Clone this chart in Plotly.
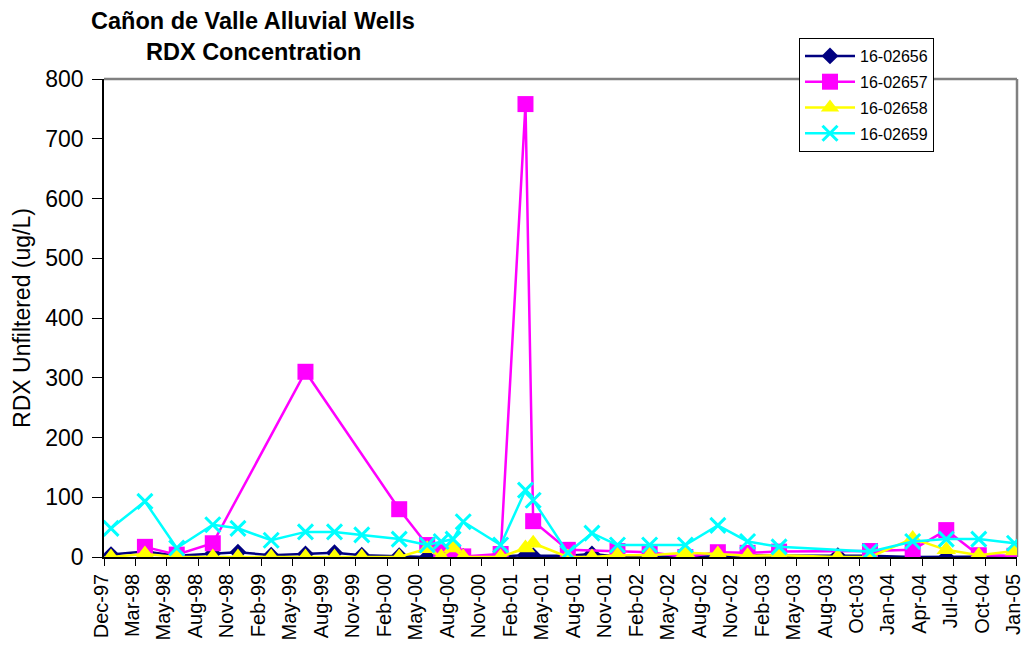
import datetime as dt
import plotly.graph_objects as go

DATES = [
    "1997-12-21", "1998-03-28", "1998-06-27", "1998-10-08", "1998-12-19",
    "1999-03-24", "1999-06-30", "1999-09-21", "1999-12-08", "2000-03-24",
    "2000-06-12", "2000-07-22", "2000-08-25", "2000-09-23", "2001-01-08",
    "2001-03-20", "2001-04-11", "2001-07-19", "2001-09-26", "2001-12-08",
    "2002-03-10", "2002-06-20", "2002-09-21", "2002-12-15", "2003-03-15",
    "2003-08-30", "2003-11-30", "2004-03-31", "2004-07-05", "2004-10-06",
    "2005-01-16",
]

W16_02656 = [4, 9, 2, 6, 8, 3, 5, 7, 3, 2, 0, 3, 2, 1, 1, 3, 2, 2, 5, 1,
             1, 1, 1, 3, 2, 2, 2, 0, 0, 1, 1]
W16_02657 = [None, 17, 4, 23, None, None, 310, None, None, 80, 20, 8, 7, 1, 5,
             758, 60, 12, None, 10, 8, 0, 8, 7, 9, None, 10, 12, 45, 3, 2]
W16_02658 = [0, 5, 0, 0, 0, 0, 0, 0, 0, 0, 14, 0, 15, 0, 0, 15, 23, 0, 0, 3,
             3, 7, 5, 2, 3, 0, 0, 31, 12, 3, 10]
W16_02659 = [48, 93, 15, 54, 48, 28, 42, 42, 37, 30, 20, 26, 30, 59, 20, 112,
             95, 7, 40, 20, 20, 20, 53, 26, 17, None, 9, 26, 30, 30, 23]

SERIES_NAMES = ["16-02656", "16-02657", "16-02658", "16-02659"]

TICK_LABELS = ["Dec-97", "Mar-98", "May-98", "Aug-98", "Nov-98", "Feb-99",
               "May-99", "Aug-99", "Nov-99", "Feb-00", "May-00", "Aug-00",
               "Nov-00", "Feb-01", "May-01", "Aug-01", "Nov-01", "Feb-02",
               "May-02", "Aug-02", "Nov-02", "Feb-03", "May-03", "Aug-03",
               "Oct-03", "Jan-04", "Apr-04", "Jul-04", "Oct-04", "Jan-05"]
AXIS_START = dt.datetime(1997, 12, 1)
TICK_STEP_DAYS = 90

TITLE_LINES = ["Cañon de Valle Alluvial Wells", "RDX Concentration"]
Y_TITLE = "RDX Unfiltered (ug/L)"

tick_dates = [AXIS_START + dt.timedelta(days=TICK_STEP_DAYS * i)
              for i in range(len(TICK_LABELS))]
axis_end = tick_dates[-1] + dt.timedelta(hours=6)

FONT = "Liberation Sans, Arial, sans-serif"

FW, FH = 1026, 653
L, R, T, B = 104, 1017, 79, 557
PW, PH = R - L, B - T

fig = go.Figure()
styles = [
    dict(color="#000080", symbol="diamond", size=13, lw=2.5),
    dict(color="#FF00FF", symbol="square", size=16, lw=2.5),
    dict(color="#FFFF00", symbol="triangle-up", size=17, lw=2.5),
    dict(color="#00FFFF", symbol="x-thin", size=15, lw=2.5),
]
for i, (name, vals, st) in enumerate(zip(SERIES_NAMES,
                                         [W16_02656, W16_02657, W16_02658, W16_02659],
                                         styles)):
    marker = dict(symbol=st["symbol"], size=st["size"], color=st["color"])
    if st["symbol"] == "x-thin":
        marker["line"] = dict(color=st["color"], width=3)
    else:
        marker["line"] = dict(width=0)
    fig.add_trace(go.Scatter(
        x=DATES, y=vals, name=name, mode="lines+markers",
        connectgaps=True, legendgroup=f"g{i}",
        line=dict(color=st["color"], width=st["lw"]),
        marker=marker,
    ))

annotations = []
for text, cy in zip(TITLE_LINES, [21, 52]):
    annotations.append(dict(
        text=f"<b>{text}</b>", xref="paper", yref="paper",
        x=(253 - L) / PW, y=(B - cy) / PH, xanchor="center", yanchor="middle",
        showarrow=False, font=dict(size=23.5, family=FONT, color="black"),
    ))

fig.update_layout(
    width=FW, height=FH,
    margin=dict(l=L, r=FW - R, t=T, b=FH - B, autoexpand=False),
    paper_bgcolor="white", plot_bgcolor="white",
    font=dict(family=FONT, color="black"),
    annotations=annotations,
    showlegend=True,
    legend=dict(
        x=(799 - L) / PW, y=1 + (T - 38) / PH,
        xanchor="left", yanchor="top",
        bgcolor="white", bordercolor="black", borderwidth=1,
        font=dict(size=16, family=FONT, color="black"),
        tracegroupgap=2, itemwidth=50,
    ),
    shapes=[
        dict(type="line", xref="paper", yref="paper", x0=0, x1=1, y0=1, y1=1,
             line=dict(color="#808080", width=2.5), layer="below"),
        dict(type="line", xref="paper", yref="paper", x0=1, x1=1, y0=0, y1=1,
             line=dict(color="#808080", width=2.5), layer="below"),
    ],
)

fig.update_xaxes(
    type="date",
    range=[AXIS_START.isoformat(), axis_end.isoformat()],
    tickmode="array", tickvals=[d.isoformat() for d in tick_dates], ticktext=TICK_LABELS,
    tickangle=-90, tickfont=dict(size=20, family=FONT, color="black"),
    ticklabeloverflow="allow", ticklabelshift=-3,
    ticks="outside", ticklen=7, tickcolor="black",
    showline=True, linecolor="black", linewidth=1.5,
    showgrid=False, zeroline=False,
)
fig.update_yaxes(
    range=[0, 800], dtick=100,
    tickfont=dict(size=23, family=FONT, color="black"),
    ticklabelstandoff=4,
    ticks="outside", ticklen=10, tickcolor="black",
    showline=True, linecolor="black", linewidth=1.5,
    showgrid=False, zeroline=False,
    title=dict(text=Y_TITLE, font=dict(size=23, family=FONT, color="black"),
               standoff=8),
)

fig.write_html(
    "out.html",
    config={"displayModeBar": False},
    post_script="document.body.style.margin='0';document.body.style.overflow='hidden';",
)
